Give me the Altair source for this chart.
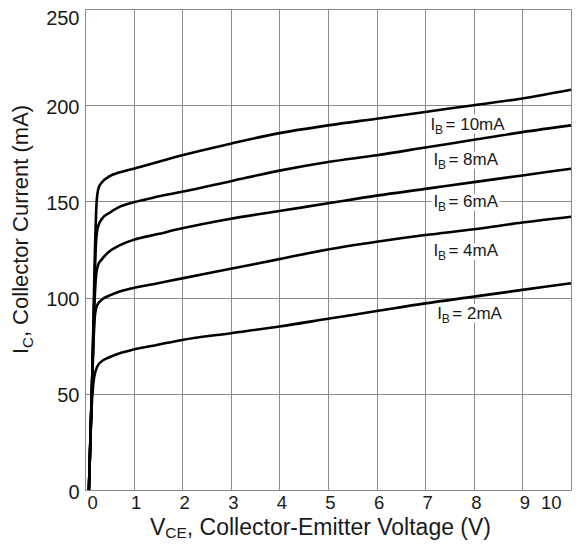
import altair as alt
import pandas as pd

# ---- data ----
series = ["10mA", "8mA", "6mA", "4mA", "2mA"]

ib10_v = [0.08, 0.15, 0.20, 0.24, 0.28, 0.35, 0.5, 0.7, 1, 1.5, 2, 3, 4, 5, 6, 7, 8, 9, 10]
ib10_i = [0, 60, 120, 150, 157, 160, 163, 165, 167, 170.5, 174, 180, 185.5, 189.5, 193, 196.5, 200, 203.5, 208]

ib8_v = [0.08, 0.15, 0.20, 0.23, 0.27, 0.35, 0.5, 0.7, 1, 1.5, 2, 3, 4, 5, 6, 7, 8, 9, 10]
ib8_i = [0, 60, 110, 130, 137, 141, 144, 147, 149.5, 152.5, 155, 160.5, 166, 170.5, 174, 178, 182, 186, 189.5]

ib6_v = [0.08, 0.15, 0.20, 0.23, 0.27, 0.35, 0.5, 0.7, 1, 1.5, 2, 3, 4, 5, 6, 7, 8, 9, 10]
ib6_i = [0, 60, 100, 112, 117, 120, 124, 127, 130, 133, 136, 141, 145, 149, 153, 156.5, 160, 163.5, 167]

ib4_v = [0.08, 0.14, 0.18, 0.21, 0.25, 0.35, 0.5, 0.7, 1, 1.5, 2, 3, 4, 5, 6, 7, 8, 9, 10]
ib4_i = [0, 50, 80, 92, 96, 99, 101, 103, 105, 107.5, 110, 115, 120, 125, 129, 132.5, 135.5, 139, 142]

ib2_v = [0.08, 0.13, 0.17, 0.22, 0.3, 0.5, 0.7, 1, 1.5, 2, 3, 4, 5, 6, 7, 8, 9, 10]
ib2_i = [0, 40, 55, 62, 66, 69, 71, 73, 75.5, 78, 81.5, 85, 89, 93, 97, 100.5, 104, 107.5]

label_x = [7.11, 7.17, 7.17, 7.17, 7.25]
label_y = [189.5, 171.6, 149.6, 124.0, 91.7]
label_txt = ["= 10mA", "= 8mA", "= 6mA", "= 4mA", "= 2mA"]

x_ticks = [0, 1, 2, 3, 4, 5, 6, 7, 8, 9, 10]
y_ticks = [0, 50, 100, 150, 200, 250]

# ---- tables ----
rows = []
for name, vv, ii in zip(series, [ib10_v, ib8_v, ib6_v, ib4_v, ib2_v],
                        [ib10_i, ib8_i, ib6_i, ib4_i, ib2_i]):
    for k, (v, i) in enumerate(zip(vv, ii)):
        rows.append({"ib": name, "vce": v, "ic": i, "k": k})
curves = pd.DataFrame(rows)
labels = pd.DataFrame({"lx": label_x, "ly": label_y, "t": label_txt})

FONT = "Liberation Sans"
GRID = "#8c8c8c"
INK = "#1a1a1a"

xs = alt.Scale(domain=[0, 10], nice=False, zero=False)
ys = alt.Scale(domain=[0, 250], nice=False)

xaxis = alt.Axis(values=x_ticks, grid=True, gridColor=GRID, gridWidth=1, gridOpacity=1,
                 domainColor=GRID, domainWidth=1, ticks=False, labelFont=FONT,
                 labelFontSize=18.5, labelColor=INK, labelPadding=3, title=None,
                 labelOffset=alt.ConditionalAxisNumber(
                     condition={"test": "datum.value == 10", "value": -10}, value=2),
                 labelOverlap=False)
yaxis = alt.Axis(values=y_ticks, grid=True, gridColor=GRID, gridWidth=1, gridOpacity=1,
                 domainColor=GRID, domainWidth=1, ticks=False, labelFont=FONT,
                 labelFontSize=20, labelColor=INK, labelPadding=6, title=None,
                 labelOffset=alt.ConditionalAxisNumber(
                     condition={"test": "datum.value == 250", "value": 9}, value=2),
                 labelOverlap=False)

lines = alt.Chart(curves).mark_line(color="black", strokeWidth=2.6, interpolate="monotone").encode(
    x=alt.X("vce:Q", scale=xs, axis=xaxis),
    y=alt.Y("ic:Q", scale=ys, axis=yaxis),
    detail="ib:N",
    order="k:Q",
)

lab_base = alt.Chart(labels).encode(
    x=alt.X("lx:Q", scale=xs), y=alt.Y("ly:Q", scale=ys))


def label_layers(halo):
    extra = dict(stroke="white", strokeWidth=7, strokeJoin="round", fill="white") if halo else dict(fill=INK)
    a = lab_base.mark_text(align="left", baseline="middle", font=FONT, fontSize=17, **extra).encode(
        text=alt.value("I"))
    b = lab_base.mark_text(align="left", baseline="middle", font=FONT, fontSize=12, dx=4.5, dy=5, **extra).encode(
        text=alt.value("B"))
    c = lab_base.mark_text(align="left", baseline="middle", font=FONT, fontSize=17, dx=15, **extra).encode(
        text="t:N")
    return [a, b, c]


def tchart():
    return alt.Chart(pd.DataFrame({"a": [0]}))


# axis titles with subscripts (positions relative to the plot's top-left)
xt1 = tchart().mark_text(align="left", baseline="alphabetic", font=FONT, fontSize=23, fill=INK).encode(
    x=alt.value(65), y=alt.value(526), text=alt.value("V"))
xt2 = tchart().mark_text(align="left", baseline="alphabetic", font=FONT, fontSize=15.5, fill=INK).encode(
    x=alt.value(80.3), y=alt.value(529), text=alt.value("CE"))
xt3 = tchart().mark_text(align="left", baseline="alphabetic", font=FONT, fontSize=23, fill=INK).encode(
    x=alt.value(101.8), y=alt.value(526), text=alt.value(", Collector-Emitter Voltage (V)"))

yt1 = tchart().mark_text(align="left", baseline="alphabetic", font=FONT, fontSize=22, fill=INK, angle=270).encode(
    x=alt.value(-57), y=alt.value(345), text=alt.value("I"))
yt2 = tchart().mark_text(align="left", baseline="alphabetic", font=FONT, fontSize=15, fill=INK, angle=270).encode(
    x=alt.value(-52), y=alt.value(338.9), text=alt.value("C"))
yt3 = tchart().mark_text(align="left", baseline="alphabetic", font=FONT, fontSize=22, fill=INK, angle=270).encode(
    x=alt.value(-57), y=alt.value(328.1), text=alt.value(", Collector Current (mA)"))

chart = alt.layer(
    lines, *label_layers(True), *label_layers(False),
    xt1, xt2, xt3, yt1, yt2, yt3,
).properties(
    width=486, height=481,
    autosize=alt.AutoSizeParams(type="none"),
    padding={"left": 77, "right": 1, "top": 1, "bottom": 52},
).configure_view(stroke=GRID, strokeWidth=1).configure(background="white")

chart.save("out.html", embed_options={"renderer": "svg", "actions": False})
